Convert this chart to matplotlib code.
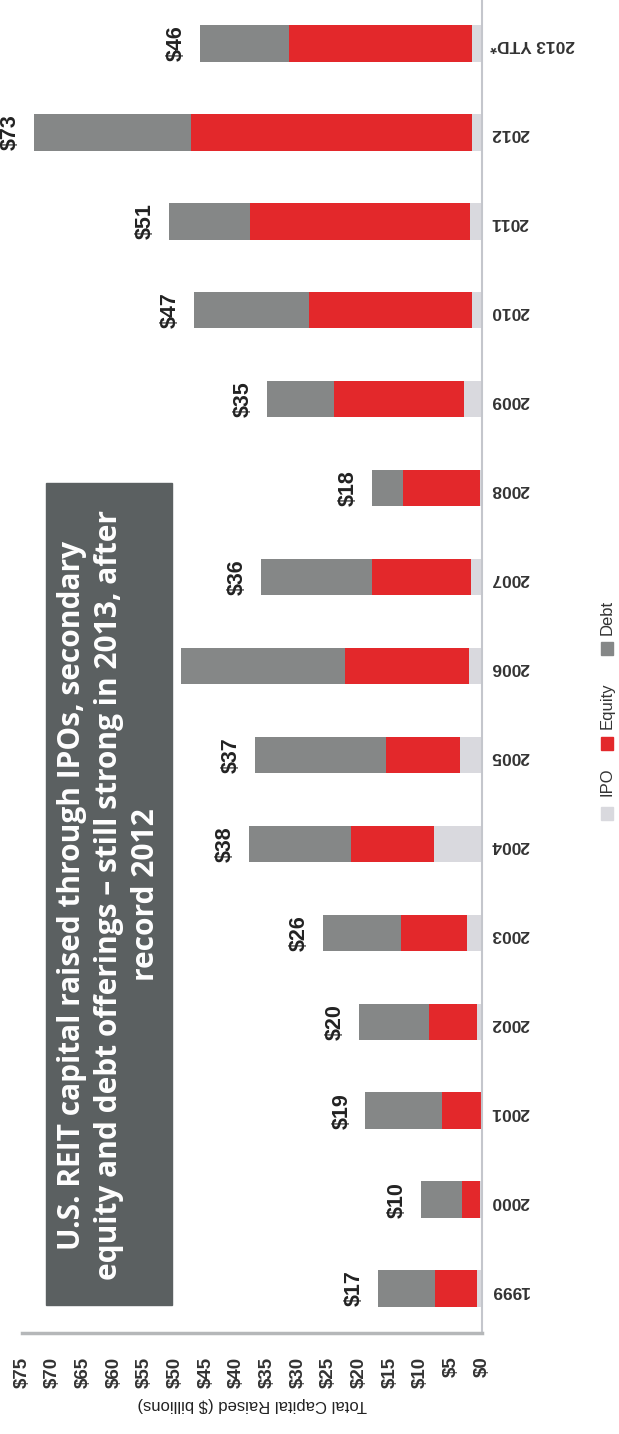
import matplotlib
matplotlib.use("Agg")
import matplotlib.pyplot as plt
from matplotlib.patches import Rectangle

# U.S. REIT capital raised, $ billions
years = ["1999", "2000", "2001", "2002", "2003", "2004", "2005", "2006",
         "2007", "2008", "2009", "2010", "2011", "2012", "2013 YTD*"]
ipo = [0.8, 0.3, 0.2, 0.8, 2.5, 7.9, 3.6, 2.1, 1.8, 0.3, 2.9, 1.6, 2.0, 1.6, 1.6]
equity = [6.9, 3.0, 6.3, 7.8, 10.7, 13.5, 12.0, 20.3, 16.2, 12.5, 21.3, 26.6, 35.9, 45.8, 29.8]
debt = [9.3, 6.7, 12.5, 11.4, 12.8, 16.6, 21.4, 26.6, 18.0, 5.2, 10.8, 18.8, 13.1, 25.6, 14.6]
series_names = ["IPO", "Equity", "Debt"]
value_ticks = list(range(0, 80, 5))
# the 2006 total sits under the title box in the source, so no label
no_label = ["2006"]

title_text = ("U.S. REIT capital raised through IPOs, secondary\n"
              "equity and debt offerings \u2013 still strong in 2013, after\n"
              "record 2012")

colors = ["#d9d9de", "#e3282b", "#858787"]
lab_font = ["Liberation Sans", "DejaVu Sans"]

W, H = 619, 1434
fig = plt.figure(figsize=(W / 100, H / 100), dpi=100)
ax = fig.add_axes([22 / W, 1 - 1333 / H, 460 / W, 1334 / H])

pos = list(range(len(years)))
left = [0.0] * len(years)
for vals, col in zip([ipo, equity, debt], colors):
    ax.barh(pos, vals, left=left, height=0.41, color=col, zorder=2)
    left = [a + b for a, b in zip(left, vals)]

for i, total in enumerate(left):
    if years[i] in no_label:
        continue
    ax.annotate(f"${round(total)}", xy=(total, i), xytext=(-9.5, 0),
                textcoords="offset points", rotation=90, ha="right", va="center",
                fontsize=15.5, fontweight="bold", family=lab_font, color="#222222", zorder=3)

ax.set_xlim(75, 0)
ax.set_ylim(-0.5, len(years) - 0.5)
ax.set_xticks(value_ticks)
ax.set_xticklabels([f"${v}" for v in value_ticks], rotation=90, fontsize=13.5,
                   fontweight="bold", family=lab_font, color="#333333")
ax.set_yticks(pos)
ax.set_yticklabels(years, rotation=180, fontsize=12.5, fontweight="bold",
                   family=lab_font, color="#333333")
ax.tick_params(axis="x", length=0, pad=17)
ax.tick_params(axis="y", length=0, pad=6, left=False, labelleft=False, labelright=True)
ax.set_xlabel("Total Capital Raised ($ billions)", rotation=180, fontsize=12,
              family=lab_font, color="#222222", labelpad=7)

for s in ["top", "left"]:
    ax.spines[s].set_visible(False)
ax.spines["right"].set_color("#c4c6cc")
ax.spines["right"].set_linewidth(1.5)
ax.spines["bottom"].set_color("#b5b7b9")
ax.spines["bottom"].set_linewidth(2.5)

# title box
ax.add_patch(Rectangle((24 / 460, 1 - 1306 / 1334), 126 / 460, 822 / 1334,
                       transform=ax.transAxes, color="#5b6061", zorder=5, clip_on=False))
ax.text(87 / 460, 1 - 896 / 1334, title_text, transform=ax.transAxes, rotation=90,
        ha="center", va="center", multialignment="center", color="white",
        fontsize=21.5, fontweight="bold", family=["Open Sans", "DejaVu Sans"],
        linespacing=1.32, zorder=6)

# legend, reading bottom to top
leg_x = 607
items = [(813, 782), (743, 706), (648, 617)]
for (my, ty), name, col in zip(items, series_names, colors):
    fig.add_artist(Rectangle(((leg_x - 6) / W, 1 - (my + 7) / H), 12 / W, 13 / H,
                             transform=fig.transFigure, color=col))
    fig.text(leg_x / W, 1 - ty / H, name, rotation=90, ha="center", va="center",
             fontsize=12, family=lab_font, color="#333333")

fig.savefig("out.png", dpi=100)
